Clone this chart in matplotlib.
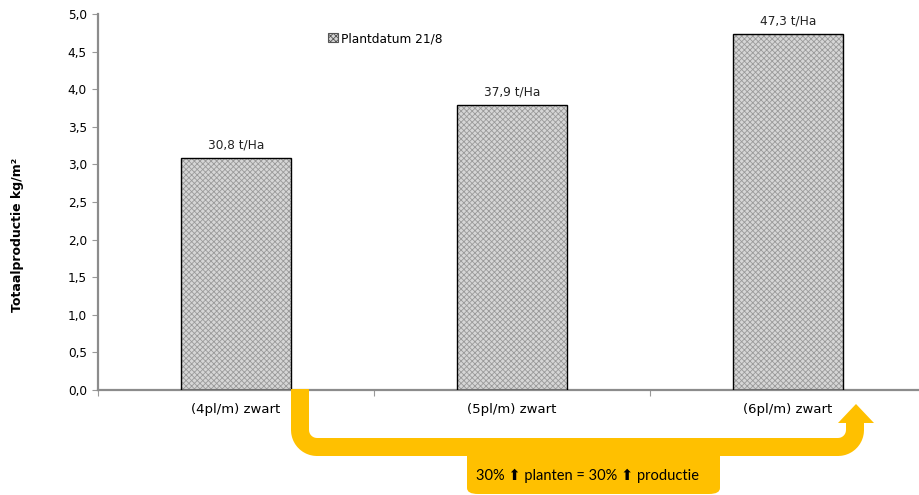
import numpy as np
import matplotlib
matplotlib.use("Agg")
import matplotlib.pyplot as plt
from matplotlib.patches import Polygon, FancyBboxPatch, Rectangle
from matplotlib.lines import Line2D
from matplotlib.ticker import FuncFormatter, FixedLocator

plt.rcParams['font.family'] = ['DejaVu Sans']
plt.rcParams['hatch.linewidth'] = 0.6

categories = ["(4pl/m) zwart", "(5pl/m) zwart", "(6pl/m) zwart"]
values = [3.08, 3.79, 4.73]
bar_labels = ["30,8 t/Ha", "37,9 t/Ha", "47,3 t/Ha"]
series_name = "Plantdatum 21/8"
ylabel = "Totaalproductie kg/m²"
banner = "30% \u2b06 planten = 30% \u2b06 productie"

W, H = 919, 495
fig = plt.figure(figsize=(W / 100, H / 100), dpi=100)
ax = fig.add_axes([98 / W, 105 / H, 828 / W, 376 / H])

x = np.arange(len(categories))
ax.bar(x, values, width=0.40, color='#d6d6d6', edgecolor='#9a9a9a',
       hatch='xxxxxx', linewidth=0, zorder=2)
ax.bar(x, values, width=0.40, fill=False, edgecolor='black', linewidth=1.0, zorder=3)

for xi, v, lab in zip(x, values, bar_labels):
    ax.text(xi, v + 0.09, lab, ha='center', va='bottom', fontsize=8.7, color='#222222')

ax.set_xlim(-0.5, 2.5)
ax.set_ylim(0, 5)
ax.yaxis.set_major_locator(FixedLocator(np.arange(0, 5.01, 0.5)))
ax.yaxis.set_major_formatter(FuncFormatter(lambda v, p: f"{v:.1f}".replace('.', ',')))
ax.xaxis.set_major_locator(FixedLocator([-0.5, 0.5, 1.5, 2.5]))
ax.xaxis.set_major_formatter(FuncFormatter(lambda v, p: ""))
ax.xaxis.set_minor_locator(FixedLocator(x))
ax.xaxis.set_minor_formatter(FuncFormatter(lambda v, p: categories[int(round(v))]))
ax.tick_params(axis='x', which='minor', length=0, pad=9, labelsize=9.5)
ax.tick_params(axis='x', which='major', length=4, color='#999999', direction='out')
ax.tick_params(axis='y', length=4, color='#999999', labelsize=8.7, pad=4)

for s in ['top', 'right']:
    ax.spines[s].set_visible(False)
for s in ['left', 'bottom']:
    ax.spines[s].set_color('#8c8c8c')
    ax.spines[s].set_linewidth(1.6)

fig.text(18 / W, 1 - 235 / H, ylabel, rotation=90, ha='center', va='center',
         fontsize=9, fontweight='bold')

# legend
leg_handle = Rectangle((0, 0), 1, 1, facecolor='#d6d6d6', edgecolor='#555555',
                       hatch='xxxxxx', linewidth=0.8)
ax.legend([leg_handle], [series_name], loc='upper left',
          bbox_to_anchor=(322 / W, 1 - 26 / H), bbox_transform=fig.transFigure,
          frameon=False, fontsize=8.7, handlelength=0.8, handleheight=0.8,
          handletextpad=0.3, borderpad=0)

# yellow arrow (figure pixel coords, y from top)
def fp(px, py):
    return (px / W, 1 - py / H)

yellow = '#ffc000'
r = 17
pts = [(300, 389), (300, 430)]
for a in np.linspace(np.pi, np.pi / 2, 12):
    pts.append((317 + r * np.cos(a), 430 + r * np.sin(a)))
pts.append((838, 447))
for a in np.linspace(np.pi / 2, 0, 12):
    pts.append((838 + r * np.cos(a), 430 + r * np.sin(a)))
pts.append((855, 420))
xs = [p[0] / W for p in pts]
ys = [1 - p[1] / H for p in pts]
fig.add_artist(Line2D(xs, ys, color=yellow, linewidth=18 * 0.72,
                      solid_joinstyle='round', solid_capstyle='butt',
                      transform=fig.transFigure))
fig.add_artist(Polygon([fp(838, 423), fp(874, 423), fp(856, 404)], closed=True,
                       facecolor=yellow, edgecolor='none', transform=fig.transFigure))
box = FancyBboxPatch(fp(467, 494), 253 / W, 44 / H,
                     boxstyle="round,pad=0,rounding_size=0.012",
                     facecolor=yellow, edgecolor='none', transform=fig.transFigure)
fig.add_artist(box)
fig.text(588 / W, 1 - 476 / H, banner, ha='center', va='center', fontsize=10.5,
         family=['Lato', 'DejaVu Sans'], color='black')

fig.savefig("out.png", dpi=100)
